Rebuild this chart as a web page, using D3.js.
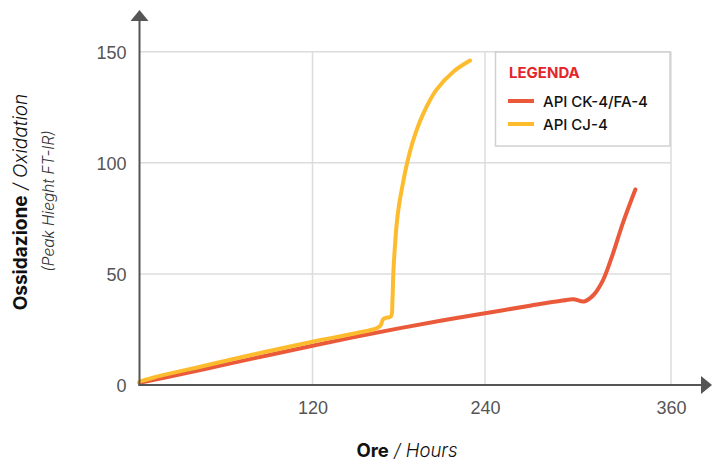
<!DOCTYPE html>
<html><head><meta charset="utf-8">
<script src="https://cdn.jsdelivr.net/npm/d3@7/dist/d3.min.js"></script>
<style>body{margin:0;background:#fff}svg{display:block;font-family:Inter,"Noto Sans",sans-serif}</style>
</head><body><svg id="c" width="712" height="464"></svg>
<script>
const xTicks = [120, 240, 360];
const yTicks = [0, 50, 100, 150];
const seriesNames = ["API CK-4/FA-4", "API CJ-4"];
const seriesColors = ["#EA5A3A", "#FDBB2E"];
// [hours, oxidation]
const ck4 = [[0,1],[30,5],[60,9.3],[90,13.5],[120,17.7],[150,21.7],[180,25.5],[210,29],[240,32.3],[270,35.8],[290,38],[297,38.6],[304,37.6],[310,40.5],[316,47],[322,58],[329,73],[337,88]];
const cj4 = [[0,1.5],[10,3.4],[20,5],[40,7.9],[60,10.9],[90,15.3],[120,19.5],[150,23.3],[165,25.6],[167.5,27],[169,29.5],[171,30.2],[174.5,30.8],[175.6,38],[176.2,50],[177.3,62],[178.6,72.7],[180.2,81],[182.1,88],[185.5,99],[190,110],[197,122],[206,132.7],[218,141],[229.6,146]];

const svg = d3.select("#c");
const x = d3.scaleLinear().domain([0,120,240,360]).range([139.5,312.5,485,671]);
const y = d3.scaleLinear().domain([0,150]).range([385,51.7]);

const g = svg.append("g");
g.selectAll(".hg").data(yTicks.filter(d=>d>0)).join("line")
  .attr("x1", x(0)).attr("x2", x(360)).attr("y1", d=>y(d)).attr("y2", d=>y(d))
  .attr("stroke","#dcdcdc").attr("stroke-width",1.5);
g.selectAll(".vg").data(xTicks).join("line")
  .attr("x1", d=>x(d)).attr("x2", d=>x(d)).attr("y1", y(0)).attr("y2", y(150))
  .attr("stroke","#dcdcdc").attr("stroke-width",1.5);

const yAxis = d3.axisLeft(y).tickValues(yTicks).tickSize(0).tickPadding(13);
const ya = svg.append("g").attr("transform",`translate(${x(0)},0)`).call(yAxis);
ya.select(".domain").remove();
ya.selectAll("text").attr("font-size",18).attr("fill","#555").attr("font-weight",500).attr("dy","0.35em");
const xAxis = d3.axisBottom(x).tickValues(xTicks).tickSize(0).tickPadding(16);
const xa = svg.append("g").attr("transform",`translate(0,${y(0)})`).call(xAxis);
xa.select(".domain").remove();
xa.selectAll("text").attr("font-size",18).attr("fill","#555").attr("font-weight",500);

const line = d3.line().x(d=>x(d[0])).y(d=>y(d[1])).curve(d3.curveCatmullRom.alpha(0.5));
[ck4, cj4].forEach((s,i)=>{
  svg.append("path").datum(s).attr("d",line).attr("fill","none")
    .attr("stroke",seriesColors[i]).attr("stroke-width",4).attr("stroke-linecap","round").attr("stroke-linejoin","round");
});

svg.append("line").attr("x1",x(0)).attr("x2",x(0)).attr("y1",y(0)+1).attr("y2",18).attr("stroke","#555").attr("stroke-width",2);
svg.append("path").attr("d",`M${x(0)-9},21 L${x(0)},10 L${x(0)+9},21 Z`).attr("fill","#555");
svg.append("line").attr("x1",x(0)-1).attr("x2",703).attr("y1",y(0)).attr("y2",y(0)).attr("stroke","#555").attr("stroke-width",2);
svg.append("path").attr("d",`M701,${y(0)-9} L712,${y(0)} L701,${y(0)+9} Z`).attr("fill","#555");

const xt = svg.append("text").attr("x",407).attr("y",457).attr("text-anchor","middle").attr("font-size",18.5).attr("fill","#111");
xt.append("tspan").attr("font-weight",700).text("Ore");
xt.append("tspan").attr("font-style","italic").attr("font-weight",300).text(" / Hours");

const yt = svg.append("text").attr("transform","translate(27,202) rotate(-90)").attr("text-anchor","middle").attr("font-size",19).attr("fill","#111");
yt.append("tspan").attr("font-weight",700).text("Ossidazione");
yt.append("tspan").attr("font-style","italic").attr("font-weight",300).text(" / Oxidation");
svg.append("text").attr("transform","translate(54,201) rotate(-90)").attr("text-anchor","middle")
  .attr("font-size",15.5).attr("font-style","italic").attr("font-weight",300).attr("fill","#333").text("(Peak Hieght FT-IR)");

const lg = svg.append("g");
lg.append("rect").attr("x",495.5).attr("y",52).attr("width",174.5).attr("height",94).attr("fill","#fff").attr("stroke","#d0d0d0").attr("stroke-width",1.5);
lg.append("text").attr("x",509).attr("y",78).attr("font-size",15).attr("font-weight",700).attr("fill","#E3262B").text("LEGENDA");
seriesNames.forEach((n,i)=>{
  const yy = 101 + i*23;
  lg.append("line").attr("x1",508).attr("x2",534).attr("y1",yy).attr("y2",yy).attr("stroke",seriesColors[i]).attr("stroke-width",4);
  lg.append("text").attr("x",543).attr("y",yy+5.5).attr("font-size",15).attr("font-weight",500).attr("fill","#111").text(n);
});
</script></body></html>
